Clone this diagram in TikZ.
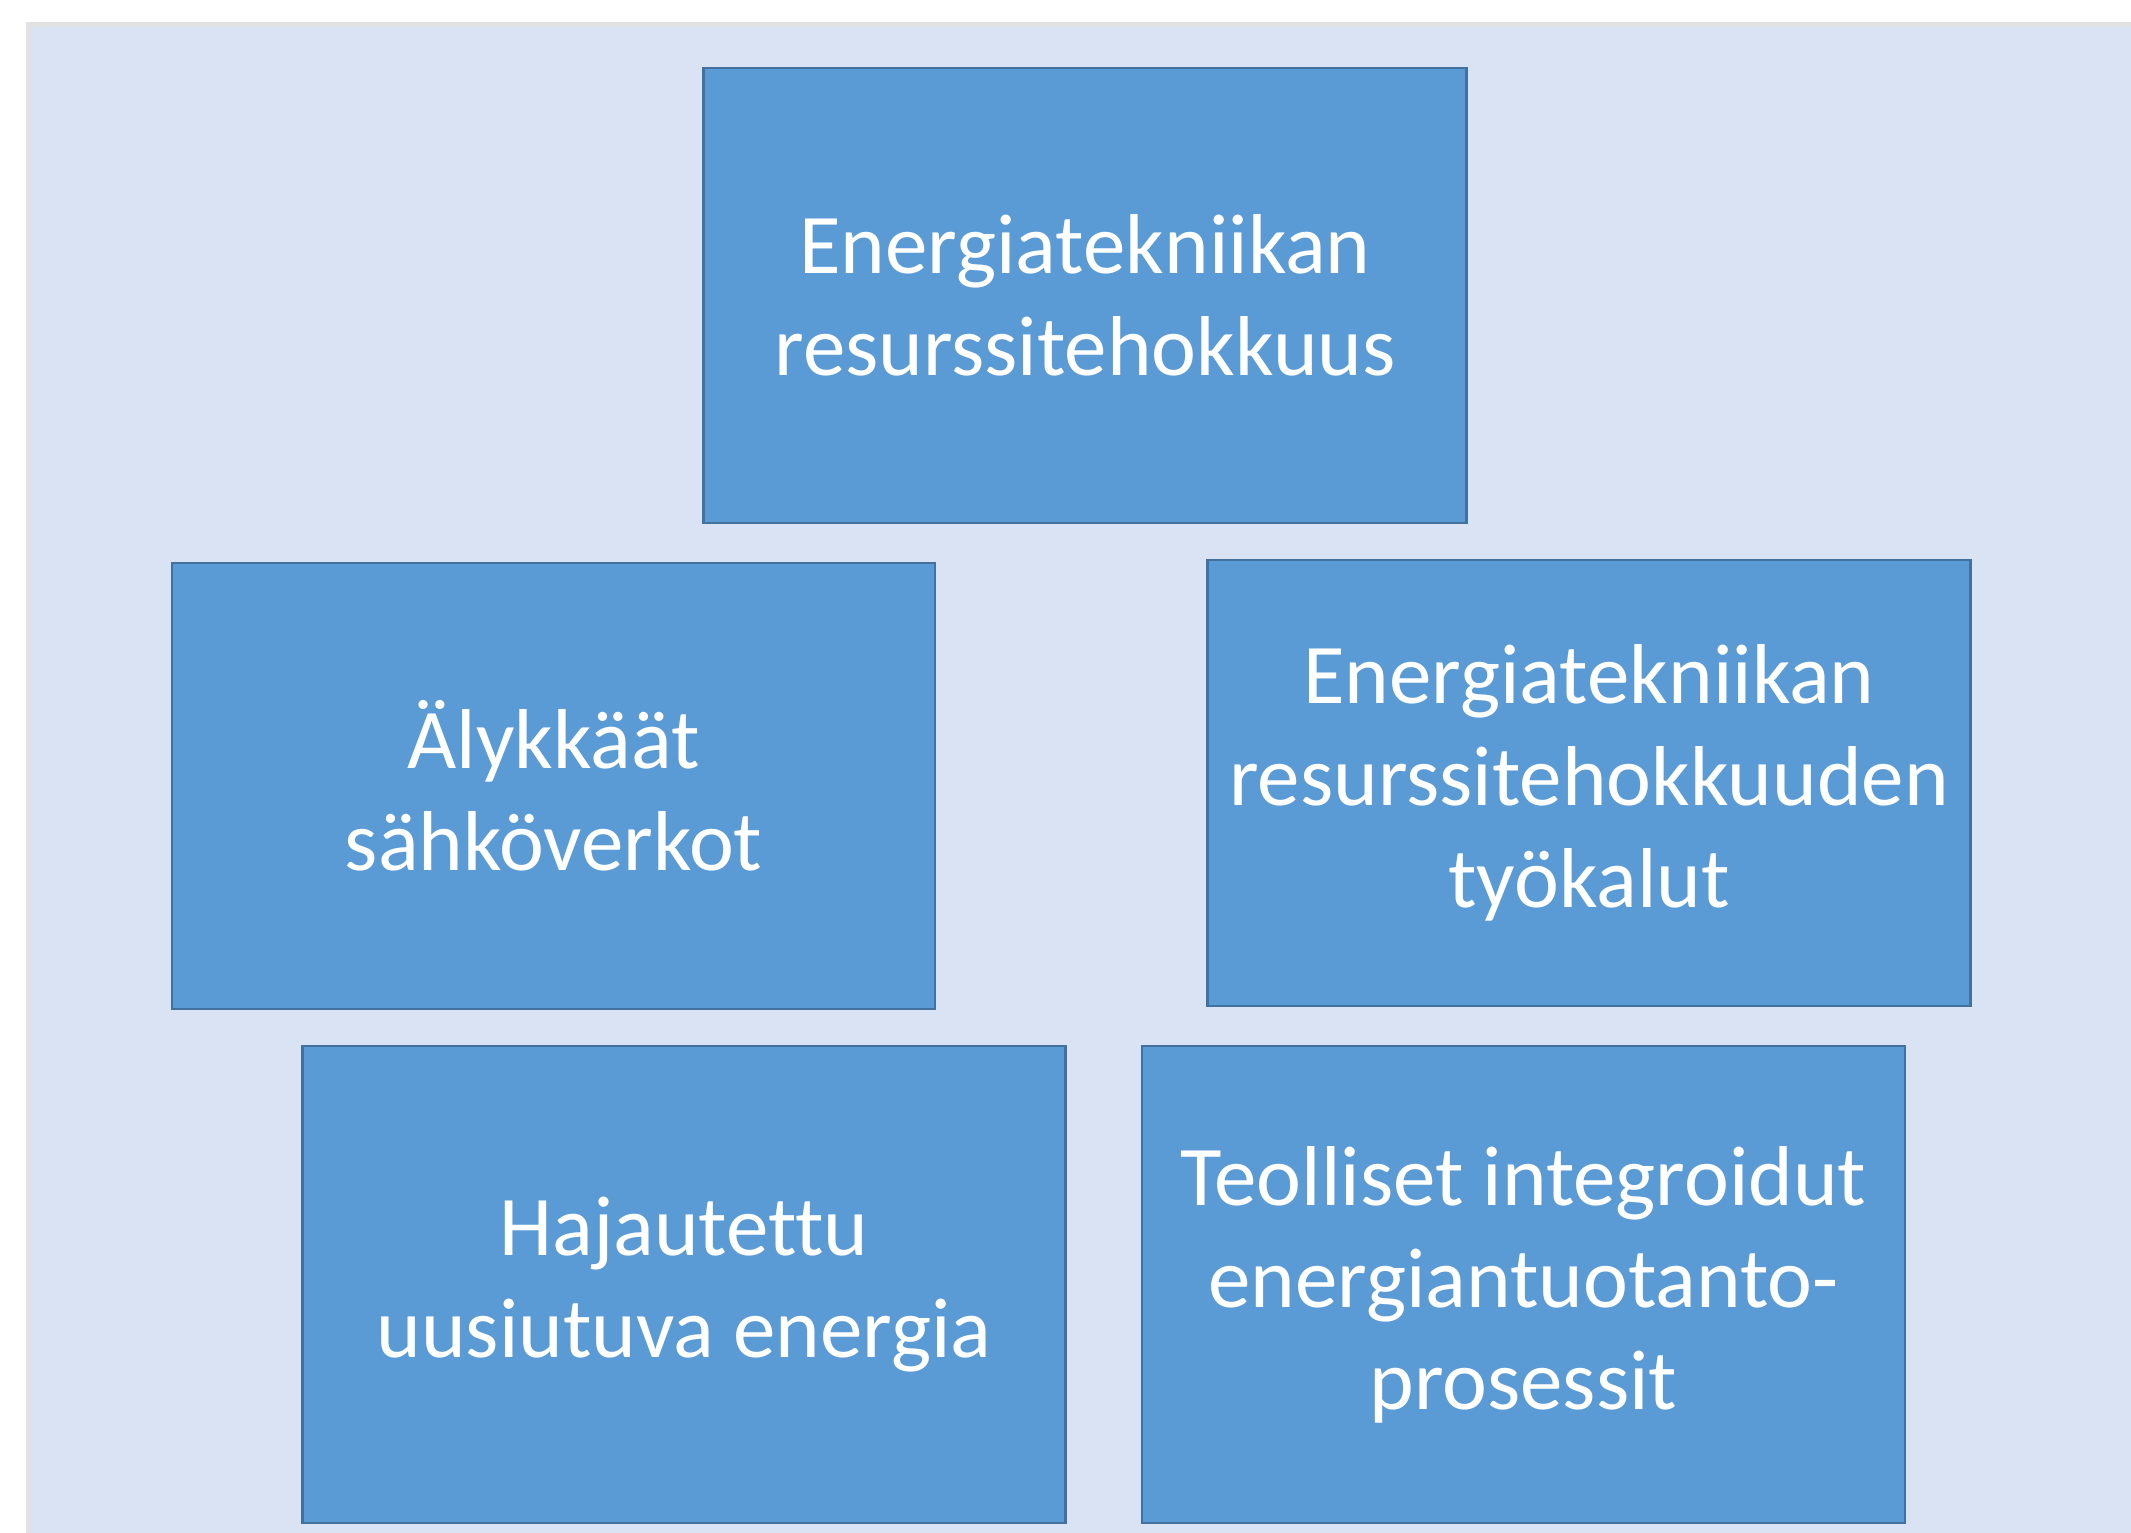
\documentclass[tikz,border=0pt]{standalone}
\usepackage{fontspec}
\setmainfont{Carlito}[Ligatures=NoCommon]
\definecolor{bgblue}{HTML}{DAE3F3}
\definecolor{boxfill}{HTML}{5B9BD5}
\definecolor{boxline}{HTML}{41719C}
\definecolor{edgegray}{HTML}{E2E2E2}
\begin{document}
\begin{tikzpicture}[x=1pt,y=-1pt,
  box/.style={draw=boxline, fill=boxfill, line width=2.5pt, text=white,
    align=center, inner sep=0pt, font=\fontsize{85}{102}\selectfont}]
\useasboundingbox (0,0) rectangle (2131,1532);
\fill[white] (0,0) rectangle (2131,1532);
\draw[edgegray, fill=bgblue, line width=5pt] (28,24) rectangle (2140,1545);
\node[box, minimum width=763pt, minimum height=455pt] (top) at (1085,295.5)
  {Energiatekniikan\\resurssitehokkuus};
\node[box, minimum width=763pt, minimum height=446pt] (left) at (553.5,786)
  {Älykkäät\\sähköverkot};
\node[box, minimum width=763pt, minimum height=446pt] (right) at (1589,783)
  {Energiatekniikan\\resurssitehokkuuden\\työkalut};
\node[box, minimum width=763pt, minimum height=477pt] (bl) at (684,1284.5)
  {Hajautettu\\uusiutuva energia};
\node[box, minimum width=763pt, minimum height=477pt] (br) at (1523.5,1284.5)
  {Teolliset integroidut\\energiantuotanto-\\prosessit};
\end{tikzpicture}
\end{document}
